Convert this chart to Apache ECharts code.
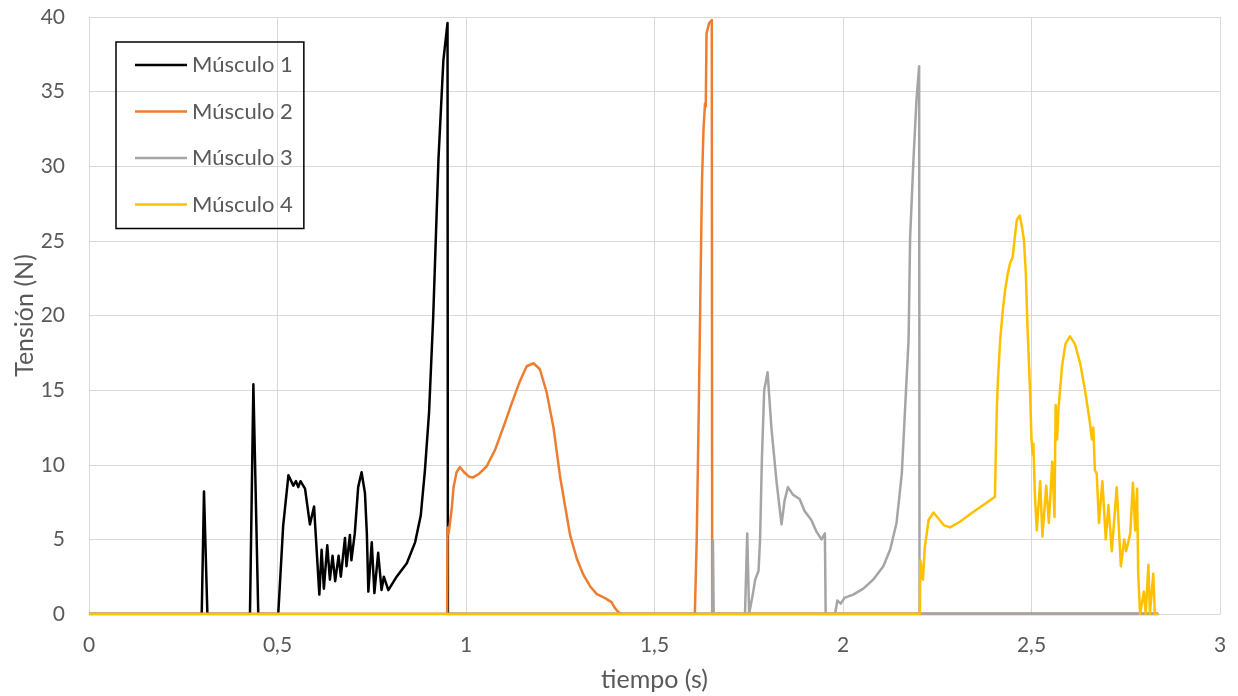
<!DOCTYPE html>
<html>
<head>
<meta charset="utf-8">
<script src="https://cdn.jsdelivr.net/npm/echarts@6/dist/echarts.min.js"></script>
<style>
html,body{margin:0;padding:0;background:#fff;}
#chart{width:1238px;height:696px;}
</style>
</head>
<body>
<div id="chart"></div>
<script>
// ---- Data (time in s, tension in N) ----
const seriesNames = ['Músculo 1', 'Músculo 2', 'Músculo 3', 'Músculo 4'];
const xTicks = [0, 0.5, 1, 1.5, 2, 2.5, 3];
const yTicks = [0, 5, 10, 15, 20, 25, 30, 35, 40];

const m1T = [0, 0.299, 0.305, 0.314, 0.427, 0.436, 0.449, 0.502, 0.515, 0.529, 0.542, 0.549, 0.555, 0.561, 0.573, 0.586, 0.597, 0.600, 0.611, 0.617, 0.623, 0.632, 0.639, 0.646, 0.653, 0.662, 0.668, 0.679, 0.683, 0.692, 0.696, 0.705, 0.714, 0.723, 0.732, 0.737, 0.741, 0.750, 0.757, 0.767, 0.776, 0.782, 0.794, 0.816, 0.843, 0.865, 0.880, 0.891, 0.902, 0.913, 0.927, 0.940, 0.951, 0.952, 2.836];
const m1V = [0, 0, 8.2, 0, 0, 15.4, 0, 0, 5.9, 9.3, 8.6, 8.9, 8.5, 8.9, 8.4, 6.0, 7.2, 5.9, 1.3, 4.3, 1.7, 4.6, 2.3, 3.9, 2.2, 3.9, 2.5, 5.1, 3.2, 5.3, 3.6, 5.4, 8.5, 9.5, 8.1, 5.4, 1.5, 4.8, 1.4, 4.1, 1.6, 2.5, 1.6, 2.5, 3.4, 4.8, 6.6, 9.6, 13.5, 19.9, 30.5, 37.1, 39.6, 0, 0];

const m2T = [0, 0.950, 0.951, 0.954, 0.958, 0.962, 0.967, 0.975, 0.984, 0.995, 1.008, 1.019, 1.035, 1.055, 1.077, 1.099, 1.121, 1.143, 1.161, 1.179, 1.196, 1.214, 1.232, 1.249, 1.263, 1.276, 1.294, 1.311, 1.329, 1.347, 1.369, 1.386, 1.395, 1.404, 1.410, 1.607, 1.612, 1.617, 1.622, 1.626, 1.630, 1.634, 1.636, 1.638, 1.645, 1.652, 1.653, 2.836];
const m2V = [0, 0, 5.8, 5.4, 5.4, 7.0, 8.5, 9.5, 9.85, 9.5, 9.2, 9.15, 9.4, 9.9, 11.0, 12.5, 14.1, 15.6, 16.6, 16.8, 16.4, 14.85, 12.5, 9.3, 7.2, 5.3, 3.7, 2.65, 1.86, 1.33, 1.06, 0.8, 0.4, 0.13, 0, 0, 5, 13, 22, 29, 32.5, 34.2, 34.0, 38.9, 39.6, 39.8, 0, 0];

const m3T = [0, 1.653, 1.655, 1.657, 1.740, 1.746, 1.751, 1.756, 1.762, 1.767, 1.776, 1.780, 1.785, 1.791, 1.800, 1.810, 1.824, 1.837, 1.845, 1.854, 1.867, 1.885, 1.898, 1.916, 1.930, 1.943, 1.952, 1.954, 1.979, 1.985, 1.994, 2.005, 2.027, 2.054, 2.080, 2.107, 2.125, 2.142, 2.156, 2.165, 2.174, 2.178, 2.187, 2.195, 2.202, 2.203, 2.836];
const m3V = [0, 0, 4.9, 0, 0, 5.4, 0, 0, 1.5, 2.3, 2.9, 5.0, 10.5, 15.0, 16.2, 12.5, 8.8, 6.0, 7.6, 8.5, 8.0, 7.7, 6.9, 6.3, 5.5, 5.0, 5.4, 0, 0, 0.9, 0.7, 1.1, 1.3, 1.7, 2.3, 3.2, 4.3, 6.1, 9.4, 13.9, 18.4, 25.2, 30.5, 34.5, 36.7, 0, 0];

const m4T = [0, 2.204, 2.205, 2.209, 2.212, 2.217, 2.220, 2.227, 2.240, 2.253, 2.267, 2.284, 2.311, 2.346, 2.381, 2.403, 2.405, 2.408, 2.411, 2.417, 2.424, 2.430, 2.437, 2.443, 2.450, 2.455, 2.461, 2.469, 2.475, 2.480, 2.485, 2.489, 2.492, 2.496, 2.500, 2.503, 2.505, 2.509, 2.514, 2.523, 2.529, 2.539, 2.546, 2.555, 2.561, 2.564, 2.568, 2.572, 2.581, 2.590, 2.602, 2.615, 2.629, 2.642, 2.655, 2.660, 2.664, 2.668, 2.673, 2.679, 2.688, 2.697, 2.704, 2.713, 2.726, 2.737, 2.746, 2.751, 2.762, 2.769, 2.775, 2.780, 2.783, 2.788, 2.798, 2.803, 2.810, 2.814, 2.823, 2.827, 2.836];
const m4V = [0, 0, 3.6, 3.0, 2.3, 4.5, 5.0, 6.3, 6.8, 6.4, 5.96, 5.8, 6.2, 6.85, 7.45, 7.86, 10.3, 13.7, 15.7, 18.4, 20.4, 21.7, 22.8, 23.5, 23.9, 25.06, 26.4, 26.7, 25.9, 25.06, 22.8, 19.5, 17.6, 15.0, 11.7, 10.7, 11.4, 8.0, 5.6, 8.9, 5.2, 8.6, 6.1, 10.2, 6.5, 14.0, 11.7, 13.9, 16.6, 18.1, 18.6, 18.1, 16.8, 15.0, 12.8, 11.7, 12.5, 9.65, 9.4, 6.1, 8.9, 5.0, 7.3, 4.2, 8.5, 3.2, 5.0, 4.2, 5.4, 8.8, 5.6, 8.4, 2.7, 0, 1.5, 0, 3.3, 0, 2.7, 0, 0];

const colors = ['#000000', '#ED7D31', '#A5A5A5', '#FFC000'];

function pairs(t, v) { return t.map((x, i) => [x, v[i]]); }
const allData = [pairs(m1T, m1V), pairs(m2T, m2V), pairs(m3T, m3V), pairs(m4T, m4V)];

const FONT = 'Lato';
const chart = echarts.init(document.getElementById('chart'), null, {renderer: 'canvas'});
chart.setOption({
  animation: false,
  backgroundColor: '#ffffff',
  color: colors,
  grid: {left: 89, right: 18, top: 17, bottom: 82, containLabel: false, outerBoundsMode: 'none'},
  legend: {
    orient: 'vertical',
    left: 116, top: 42,
    data: seriesNames,
    icon: 'rect',
    itemWidth: 52, itemHeight: 2.5, itemGap: 22.5, itemTextGap: 6,
    padding: [11, 11, 12, 19],
    borderColor: '#000000', borderWidth: 1.5,
    textStyle: {fontFamily: FONT, fontSize: 22, color: '#595959', lineHeight: 24}
  },
  xAxis: {
    type: 'value', min: xTicks[0], max: xTicks[xTicks.length - 1], interval: 0.5,
    name: 'tiempo (s)', nameLocation: 'middle', nameGap: 53, nameMoveOverlap: false,
    nameTextStyle: {fontFamily: FONT, fontSize: 25, color: '#595959'},
    axisLine: {show: true, lineStyle: {color: '#D9D9D9', width: 1}},
    axisTick: {show: false},
    axisLabel: {fontFamily: FONT, fontSize: 21, color: '#595959', margin: 21,
      formatter: v => String(v).replace('.', ',')},
    splitLine: {show: true, lineStyle: {color: '#D9D9D9', width: 1}}
  },
  yAxis: {
    type: 'value', min: yTicks[0], max: yTicks[yTicks.length - 1], interval: 5,
    name: 'Tensión (N)', nameLocation: 'middle', nameGap: 52, nameRotate: 90, nameMoveOverlap: false,
    nameTextStyle: {fontFamily: FONT, fontSize: 25, color: '#595959'},
    axisLine: {show: false},
    axisTick: {show: false},
    axisLabel: {fontFamily: FONT, fontSize: 21, color: '#595959', margin: 24},
    splitLine: {show: true, lineStyle: {color: '#D9D9D9', width: 1}}
  },
  series: seriesNames.map((n, i) => ({
    name: n, type: 'line', data: allData[i], symbol: 'none', showSymbol: false,
    lineStyle: {width: 2.5, color: colors[i], join: 'round'},
    itemStyle: {color: colors[i]},
    z: 2 + i
  }))
});
</script>
</body>
</html>
